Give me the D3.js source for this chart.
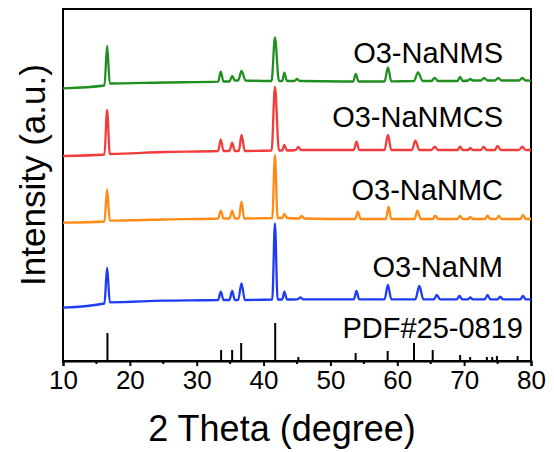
<!DOCTYPE html>
<html><head><meta charset="utf-8">
<script src="https://cdn.jsdelivr.net/npm/d3@7"></script>
<style>body{margin:0;background:#fff;} text{font-family:"Liberation Sans",Arial,sans-serif;}</style>
</head><body><svg id="c" width="554" height="452"></svg>
<script>
// 2-theta read points [deg, intensity a.u.] (offset stacked as in the figure)
const seriesNames = ["O3-NaNMS","O3-NaNMCS","O3-NaNMC","O3-NaNM"];
const seriesColors = ["#1f8f1f","#f23c3c","#ff8a14","#1f3cf2"];
const greenNaNMS = [[10,272.7],[16.2,275.5],[16.6,315],[17.0,277.5],[25,278.5],[33.2,279.3],[33.6,289.3],[34.0,279.5],[34.9,279.5],[35.3,285],[35.7,280.5],[36.2,280.5],[36.7,290],[37.3,280.5],[41.2,280],[41.7,323.5],[42.3,280],[42.8,280],[43.1,288.3],[43.5,280],[44.6,280],[45.0,282],[45.4,280],[53.4,279.5],[53.8,287],[54.2,279.5],[58.1,279.5],[58.6,293.7],[59.1,279.7],[62.5,280],[63.1,288.7],[63.8,280],[65.1,280],[65.6,283],[66.1,280],[69.0,280],[69.4,284],[69.8,280],[70.6,280.5],[70.9,282],[71.3,280.5],[72.5,280.5],[73.0,283],[73.5,280.5],[74.6,280.5],[75.1,283],[75.6,280.5],[78.2,280.5],[78.7,283],[79.2,280.5],[80,280.3]];
const redNaNMCS = [[10,205],[16.2,206.5],[16.6,251],[17.0,207],[25,209],[33.2,210],[33.6,221.7],[34.0,210],[34.9,210],[35.3,218.3],[35.7,210],[36.3,210],[36.7,226],[37.2,210],[41.2,210.5],[41.7,274.3],[42.3,210.5],[42.8,210.5],[43.1,216],[43.5,210.5],[44.8,211],[45.2,214],[45.6,211],[53.5,211],[53.9,219.3],[54.3,211],[58.1,211],[58.6,226],[59.1,211],[62.2,211],[62.7,220.3],[63.3,211],[65.1,211],[65.6,214.3],[66.1,211],[69.0,211],[69.4,214.3],[69.8,211],[70.6,211],[70.9,213],[71.3,211],[72.5,211],[72.9,214],[73.4,211],[74.6,211],[75.0,215],[75.5,211],[78.2,211],[78.7,214.3],[79.2,211],[80,211]];
const orangeNaNMC = [[10,138.3],[16.2,139.5],[16.6,171.7],[17.0,140.3],[25,141.5],[33.2,142.5],[33.6,150.3],[34.0,142.5],[34.9,142.5],[35.3,150.3],[35.7,142.5],[36.3,142.5],[36.7,159.3],[37.1,142.5],[41.3,143],[41.7,206],[42.1,143],[42.8,143],[43.1,147],[43.5,143],[45.3,142.5],[45.7,145],[46.1,142.5],[53.7,142],[54.1,149.3],[54.5,142],[58.3,142],[58.7,154.3],[59.1,142],[62.6,142],[63.0,150.3],[63.5,142],[65.3,142],[65.7,145.3],[66.1,142],[69.0,142],[69.4,145],[69.8,142],[70.6,142],[70.9,144],[71.3,142],[73.1,142],[73.5,145.3],[73.9,142],[74.8,142],[75.2,145],[75.6,142],[78.4,142],[78.8,146],[79.2,142],[80,142]];
const blueNaNM = [[10,53.3],[16.2,57.5],[16.6,93.3],[17.0,58.7],[25,60.3],[33.2,61],[33.6,69.3],[34.0,61],[34.9,61],[35.3,70],[35.7,61],[36.2,61],[36.7,77.7],[37.2,61],[41.3,61.5],[41.7,137.5],[42.1,61.5],[42.8,61.5],[43.1,69.3],[43.5,61.5],[45.1,61.7],[45.5,63.7],[45.9,61.7],[53.5,61.7],[53.9,70],[54.3,61.7],[58.1,61.7],[58.6,76],[59.1,61.7],[62.7,61.7],[63.3,75],[63.9,61.7],[65.5,61.7],[65.9,66],[66.4,61.7],[68.9,61.7],[69.3,65],[69.7,61.7],[70.6,61.7],[70.9,63.5],[71.3,61.7],[73.1,61.7],[73.5,66],[73.9,61.7],[75.0,61.7],[75.4,64.3],[75.8,61.7],[78.4,61.7],[78.8,65],[79.2,61.7],[80,61.7]];
const pdfPos    = [16.65,33.65,35.3,36.65,41.74,45.2,53.77,58.56,62.5,65.3,69.4,70.9,73.4,74.2,74.9,78.0];
const pdfHeight = [28,11,11,18,38,4,8,10,18,11,6,4,4,4,5,5];
const pdfLabel = "PDF#25-0819";
const xTicks = [10,20,30,40,50,60,70,80];
const xMinorTicks = [15,25,35,45,55,65,75];
const xTitle = "2 Theta (degree)";
const yTitle = "Intensity (a.u.)";
const seriesData = [greenNaNMS, redNaNMCS, orangeNaNMC, blueNaNM];
const labelAt = [[80,298],[80,234.3],[80,161],[80,83.7]]; // label anchor (deg, a.u.)

const W=554,H=452, m={l:63,r:23,t:9,b:91};
const svg=d3.select("#c");
const x=d3.scaleLinear().domain([10,80]).range([m.l,W-m.r]);
const y=d3.scaleLinear().domain([0,352]).range([H-m.b,m.t]);

// frame
svg.append("rect").attr("x",m.l).attr("y",m.t).attr("width",W-m.r-m.l).attr("height",H-m.b-m.t)
  .attr("fill","none").attr("stroke","#000").attr("stroke-width",2);

const line=d3.line().x(d=>x(d[0])).y(d=>y(d[1])).curve(d3.curveMonotoneX);
seriesData.forEach((s,i)=>{
  svg.append("path").datum(s).attr("d",line).attr("fill","none")
    .attr("stroke",seriesColors[i]).attr("stroke-width",2.3).attr("stroke-linejoin","round");
});
// PDF bars
svg.selectAll(".pdf").data(pdfPos).enter().append("line")
  .attr("x1",d=>x(d)).attr("x2",d=>x(d)).attr("y1",y(0)).attr("y2",(d,i)=>y(pdfHeight[i]))
  .attr("stroke","#000").attr("stroke-width",2);

// x axis
const gx=svg.append("g").attr("transform",`translate(0,${y(0)})`)
  .call(d3.axisBottom(x).tickValues(xTicks).tickSize(5).tickPadding(5).tickFormat(d3.format("d")));
gx.select(".domain").attr("stroke-width",2);
gx.selectAll(".tick line").attr("stroke-width",2);
gx.selectAll("text").attr("font-size",26).attr("font-family","Liberation Sans, Arial").attr("fill","#000");
gx.selectAll(".minor").data(xMinorTicks).enter().append("line").attr("class","minor")
  .attr("x1",d=>x(d)).attr("x2",d=>x(d)).attr("y1",0).attr("y2",3).attr("stroke","#000").attr("stroke-width",2);

// labels
seriesNames.forEach((n,i)=>{
  svg.append("text").attr("x",x(80)-28).attr("y",y(labelAt[i][1]))
   .attr("text-anchor","end").attr("font-size",29).text(n);
});
svg.append("text").attr("x",x(80)-8).attr("y",y(23)).attr("text-anchor","end").attr("font-size",29).text(pdfLabel);

svg.append("text").attr("x",282).attr("y",441).attr("text-anchor","middle").attr("font-size",36).text(xTitle);
svg.append("text").attr("transform",`translate(45,${175}) rotate(-90)`).attr("text-anchor","middle").attr("font-size",35).text(yTitle);
</script></body></html>
